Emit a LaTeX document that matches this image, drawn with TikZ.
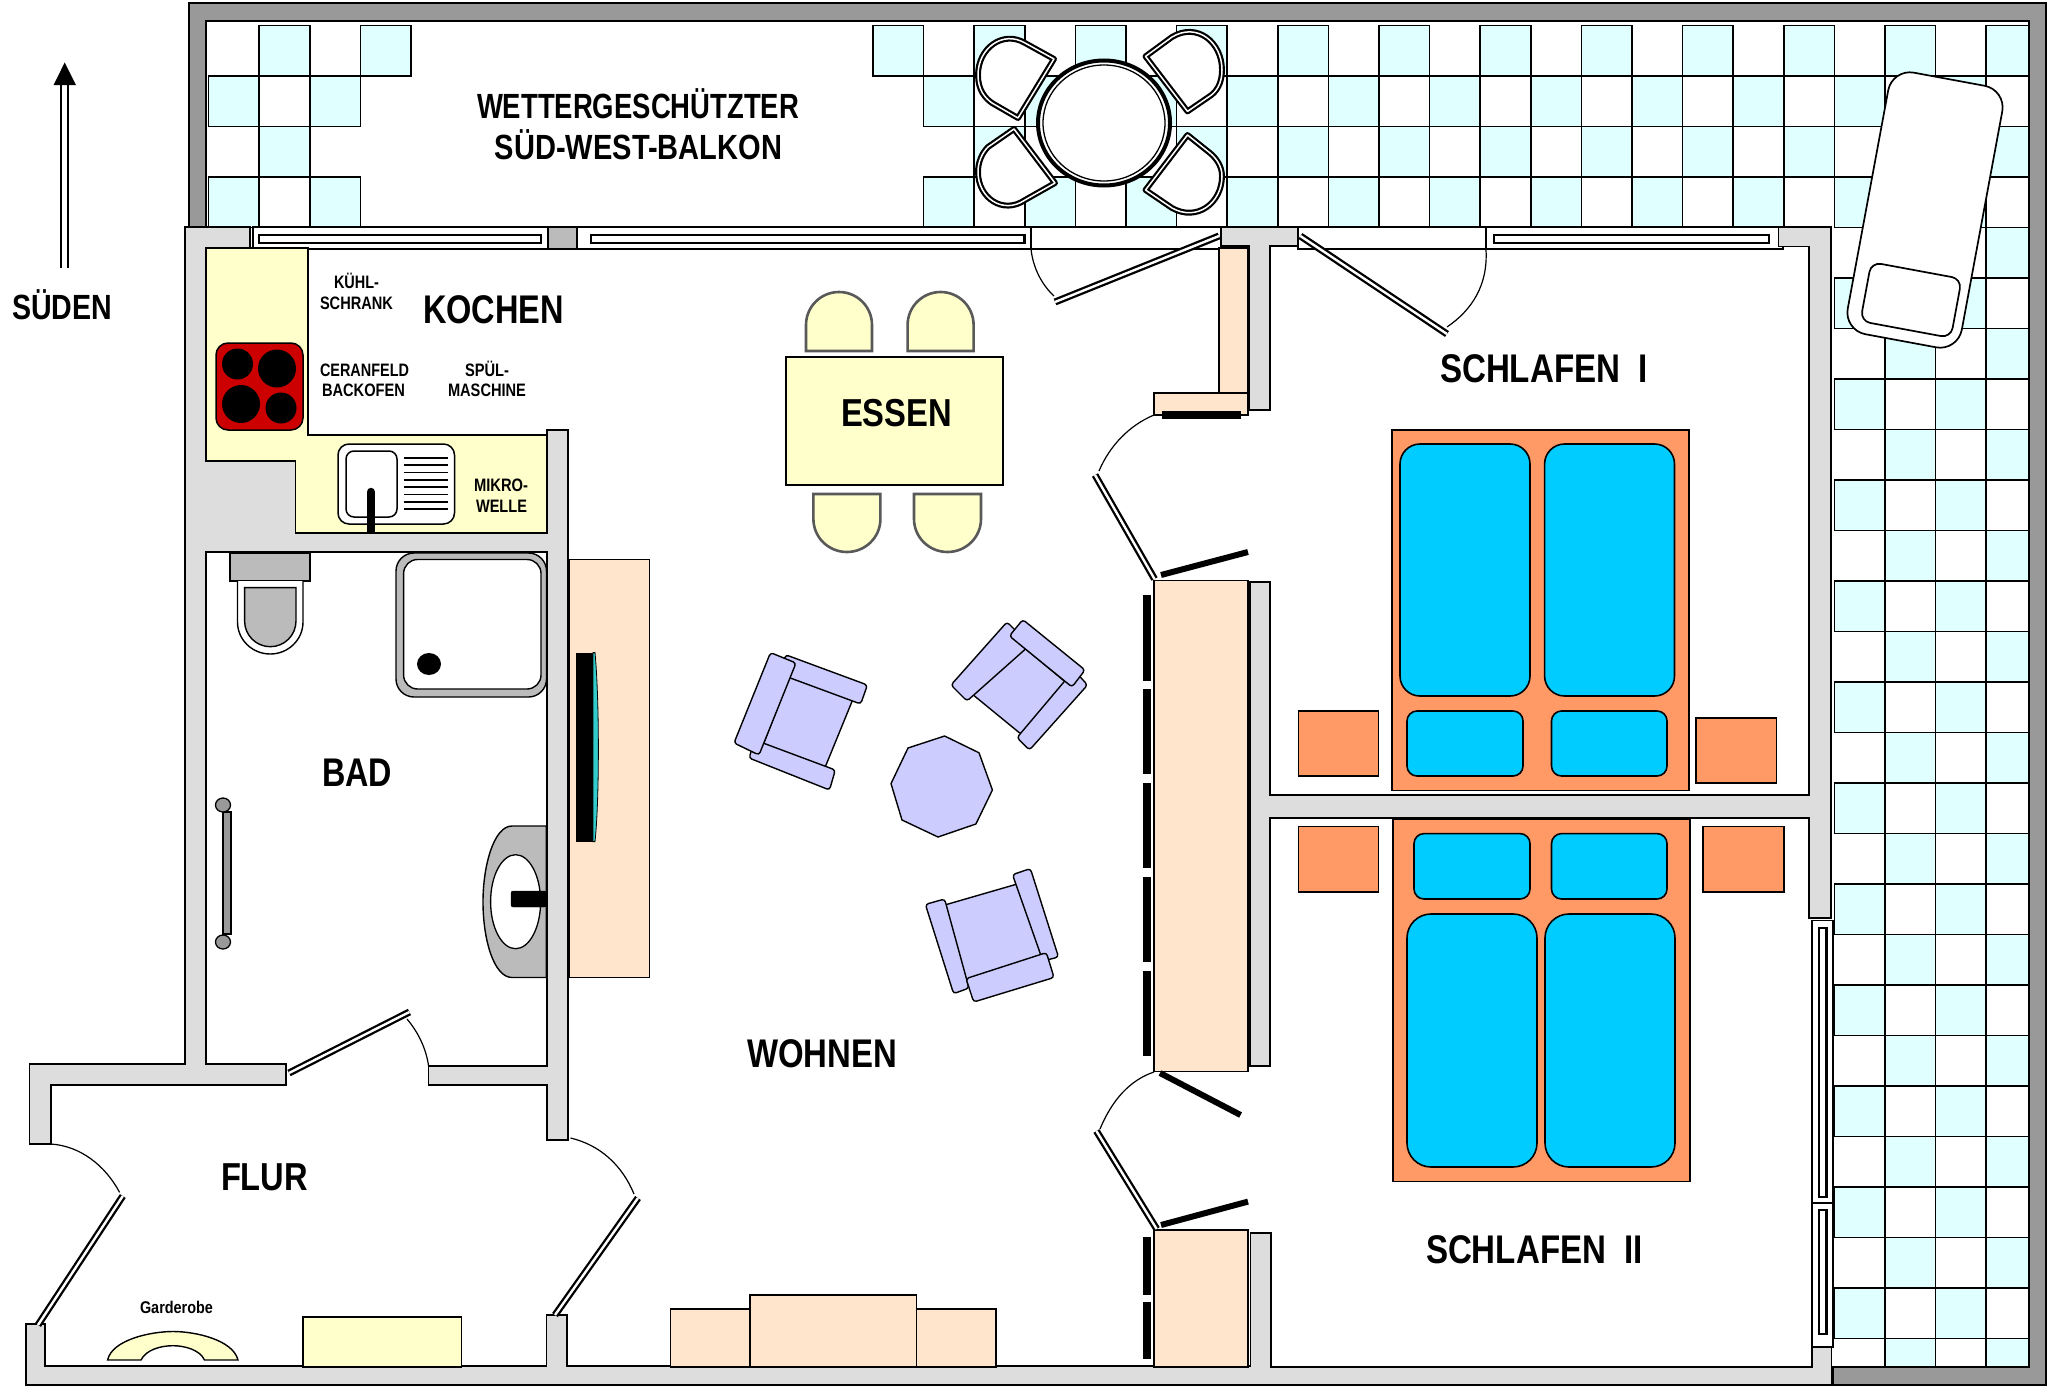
\documentclass[tikz,border=0pt]{standalone}
\usepackage{fontspec}
\usepackage{graphicx}
\setmainfont{Liberation Sans}
\definecolor{tilec}{HTML}{E0FFFF}
\definecolor{wallc}{HTML}{DDDDDD}
\definecolor{balc}{HTML}{999999}
\definecolor{kitc}{HTML}{FFFFCC}
\definecolor{woodc}{HTML}{FFE5CC}
\definecolor{bedc}{HTML}{FF9966}
\definecolor{matc}{HTML}{00CCFF}
\definecolor{lilac}{HTML}{CCCCFF}
\definecolor{sanc}{HTML}{BBBBBB}
\definecolor{tvc}{HTML}{33CCCC}
\tikzset{
  tile/.style={fill=tilec,draw=black,line width=1.5pt},
  wallp/.style={fill=wallc,draw=black,line width=1.5pt,line join=miter},
  balw/.style={fill=balc,draw=black,line width=1.8pt},
  framep/.style={fill=white,draw=black,line width=1.5pt},
  glass/.style={fill=white,draw=black,line width=2.2pt},
  kit/.style={fill=kitc,draw=black,line width=1.6pt},
  wood/.style={fill=woodc,draw=black,line width=1.5pt},
  bedf/.style={fill=bedc,draw=black,line width=1.8pt},
  mat/.style={fill=matc,draw=black,line width=1.6pt},
  seatc/.style={fill=kitc,draw=black!65,line width=2.6pt},
  lil/.style={fill=lilac,draw=black,line width=1.4pt,rounded corners=3pt},
  san/.style={fill=sanc,draw=black,line width=1.4pt},
  leaf/.style={draw=black,line width=2.3pt,double=white,double distance=2.4pt},
  swing/.style={draw=black,line width=1.2pt},
  bar/.style={draw=black,line width=6pt},
  balseat/.style={fill=white,draw=black,line width=2.2pt,double=white,double distance=1.5pt,line join=round},
  lab/.style={anchor=base,inner sep=0pt,outer sep=0pt}
}
\newcommand\lab[6]{\node[lab] (#1) at ({(#2+#3)/2},#4) {\resizebox{\dimexpr #3pt-#2pt\relax}{\height}{\fontsize{#5pt}{#5pt}\bfseries\selectfont #6}};}
\newcommand\ttile[2]{%
  \pgfmathsetmacro\tx{#1<10 ? 208.5+50.7*#1 : 873+50.6*(#1-13)}\pgfmathsetmacro\ty{25.4+50.5*#2}%
  \pgfmathsetmacro\tu{\tx+50.6}\pgfmathsetmacro\tv{\ty+50.5}%
  \draw[tile] (\tx,\ty) rectangle (\tu,\tv);}
\begin{document}
\begin{tikzpicture}[x=1pt,y=-1pt]
\useasboundingbox (0,0) rectangle (2048,1389);
\fill[white] (0,0) rectangle (2048,1389);
% tiles
\begin{scope}
\clip (206,20) rectangle (2029,1367);
\foreach \i/\r in {1/0,3/0,0/1,2/1,1/2,0/3,2/3,13/0}{\ttile{\i}{\r}}
\foreach \i in {14,...,35}{\foreach \r in {0,...,3}{%
  \pgfmathtruncatemacro\pp{mod(\i+\r,2)}\ifnum\pp=1 \ttile{\i}{\r}\fi}}
\foreach \i in {32,...,35}{\foreach \r in {4,...,26}{%
  \pgfmathtruncatemacro\pp{mod(\i+\r,2)}\ifnum\pp=1 \ttile{\i}{\r}\fi}}
\end{scope}
% balcony wall
\draw[balw] (189,227)--(189,3)--(2046,3)--(2046,1385)--(1833,1385)--(1833,1367)--(2029,1367)--(2029,21)--(206,21)--(206,227)--cycle;
% lounger
\begin{scope}[shift={(1925,210)},rotate=-10.5]
\draw[fill=white,draw=black,line width=1.7pt,rounded corners=22pt] (-58,-133) rectangle (58,133);
\end{scope}
\begin{scope}[shift={(1911,300)},rotate=-10.5]
\draw[fill=white,draw=black,line width=1.7pt,rounded corners=10pt] (-46,-30) rectangle (46,30);
\end{scope}
% balcony table
\draw[fill=white,draw=black,line width=4pt] (1104,123) ellipse [x radius=66pt,y radius=62.5pt];
\draw[draw=black,line width=1.3pt] (1104,123) ellipse [x radius=61pt,y radius=58pt];
\draw[balseat] (1054,59)--(1025,43) .. controls (1003,30) and (978,48) .. (978,75) .. controls (978,90) and (985,98) .. (992,103)--(1018,118)--cycle;
\draw[balseat] (1145.5,56.4)--(1172,37) .. controls (1197,22) and (1222,42) .. (1222,70) .. controls (1222,84) and (1216,92) .. (1210,96)--(1187.5,111.4)--cycle;
\draw[balseat] (1014,129)--(988,147) .. controls (982,153) and (978,162) .. (978,172) .. controls (978,198) and (1003,215) .. (1025,200)--(1055,183)--cycle;
\draw[balseat] (1187.5,135)--(1210,153) .. controls (1216,158) and (1222,166) .. (1222,176) .. controls (1222,203) and (1197,222) .. (1172,208)--(1145.5,190)--cycle;
% top window frames
\draw[framep] (253,227) rectangle (548,249);
\draw[fill=sanc,draw=black,line width=1.5pt] (548,227) rectangle (577,249);
\draw[framep] (577,227) rectangle (1031,249);
\draw[framep] (1031,227) rectangle (1221,249);
\draw[framep] (1298,227) rectangle (1486,249);
\draw[framep] (1486,227) rectangle (1783,249);
\draw[glass] (259,234.6) rectangle (541,243);
\draw[glass] (591,234.6) rectangle (1024.5,243);
\draw[glass] (1494,234.6) rectangle (1769,243);
% right window frames
\draw[framep] (1812,920.5) rectangle (1833,1203);
\draw[framep] (1812,1203) rectangle (1833,1347);
\draw[glass] (1819,928) rectangle (1826.5,1197);
\draw[glass] (1819,1210) rectangle (1826.5,1334);
% kitchen counter
\draw[kit] (206,248)--(308,248)--(308,435)--(547,435)--(547,533)--(295.5,533)--(295.5,461)--(206,461)--cycle;
% walls
\draw[wallp] (185,227)--(250,227)--(250,248)--(206,248)--(206,461)--(295.5,461)--(295.5,533)--(547,533)--(547,430)--(568,430)--(568,1140)--(547,1140)--(547,1085)--(428.6,1085)--(428.6,1066)--(547,1066)--(547,552)--(206,552)--(206,1064)--(286,1064)--(286,1085)--(51,1085)--(51,1144)--(29.5,1144)--(29.5,1064)--(185,1064)--cycle;
\draw[wallp] (26,1324)--(45,1324)--(45,1366)--(546.4,1366)--(546.4,1315)--(567,1315)--(567,1366)--(1250.5,1366)--(1250.5,1233)--(1271,1233)--(1271,1367)--(1812,1367)--(1812,1347)--(1831.6,1347)--(1831.6,1385)--(26,1385)--cycle;
\draw[wallp] (1221,227)--(1298,227)--(1298,246)--(1270,246)--(1270,410)--(1249,410)--(1249,246)--(1221,246)--cycle;
\draw[wallp] (1250,582)--(1270,582)--(1270,795)--(1809,795)--(1809,246.5)--(1778.6,246.5)--(1778.6,227)--(1831,227)--(1831,918)--(1809,918)--(1809,818)--(1270,818)--(1270,1066)--(1250,1066)--cycle;
% stove
\draw[fill=red!80!black,draw=black,line width=1.5pt,rounded corners=12pt] (216,343) rectangle (303,430);
\fill[black] (237.5,364) ellipse [x radius=15.5pt,y radius=15.5pt];
\fill[black] (277,368.5) ellipse [x radius=19pt,y radius=19pt];
\fill[black] (241,404) ellipse [x radius=19pt,y radius=19pt];
\fill[black] (281,408) ellipse [x radius=15.5pt,y radius=15.5pt];
% kitchen sink
\draw[fill=white,draw=black,line width=1.5pt,rounded corners=11pt] (338,444) rectangle (454.5,524);
\draw[fill=white,draw=black,line width=1.5pt,rounded corners=8pt] (346,451) rectangle (397,517);
\foreach \yy in {458,465,472.5,480,487,494.6,502,509}{\draw[black,line width=1.4pt] (403.6,\yy)--(448,\yy);}
\draw[black,line width=8.5pt,line cap=round] (371,492)--(371,525);
\draw[black,line width=8.5pt] (371,510)--(371,532);
% WC
\draw[san] (230,553) rectangle (310,581);
\draw[fill=white,draw=black,line width=1.4pt] (237.5,581)--(237.5,622) arc[start angle=180,end angle=360,x radius=32.75pt,y radius=32pt]--(303,581);
\draw[san] (244.6,587.6)--(296,587.6)--(296,621) arc[start angle=0,end angle=-180,x radius=25.7pt,y radius=25.7pt]--cycle;
% shower
\draw[fill=sanc,draw=black,line width=1.4pt,rounded corners=18pt] (396,553) rectangle (546.5,697);
\draw[fill=white,draw=black,line width=1.4pt,rounded corners=14pt] (403.6,559.5) rectangle (541,689);
\fill[black] (429,664) ellipse [x radius=12pt,y radius=11pt];
% towel bar
\draw[fill=balc,draw=black,line width=1.3pt] (223,812) rectangle (231,934);
\draw[fill=balc,draw=black,line width=1.3pt] (223,805) ellipse [x radius=7.5pt,y radius=7pt];
\draw[fill=balc,draw=black,line width=1.3pt] (223,942) ellipse [x radius=7.5pt,y radius=7pt];
% basin
\draw[san] (546.4,826)--(512,826) .. controls (494,826) and (483,865) .. (483,902) .. controls (483,940) and (494,977.5) .. (512,977.5)--(546.4,977.5)--cycle;
\draw[fill=white,draw=black,line width=1.3pt] (515.6,901.7) ellipse [x radius=25pt,y radius=47pt];
\draw[fill=black,rounded corners=2pt] (511,891) rectangle (546.4,907);
% TV cabinet
\draw[wood] (569.6,559.5) rectangle (649.5,977.5);
\draw[fill=tvc,draw=black,line width=.8pt] (593,652.6)--(595,652.6) .. controls (599.5,700) and (599.5,800) .. (595,841.6)--(593,841.6)--cycle;
\fill[black] (576,652.6) rectangle (593,841.6);
% armchairs: seat, arms, back
\draw[lil] (790,676)--(853,699)--(824.4,769)--(763,745)--cycle;
\draw[lil] (785.7,654.8)--(867.4,685)--(860.7,704)--(779.5,674)--cycle;
\draw[lil] (755,740)--(835.3,770)--(829.5,790)--(749,758)--cycle;
\draw[lil] (770.5,652.6)--(796,663)--(759,755)--(734,743)--cycle;
\draw[lil] (1015,640)--(1068,684)--(1021.5,734.5)--(969,691.5)--cycle;
\draw[lil] (1007,622)--(1030,645)--(967,701)--(951,685)--cycle;
\draw[lil] (1087.5,685)--(1029.5,750)--(1017,737.6)--(1074,670)--cycle;
\draw[lil] (1022.8,619.6)--(1085,670)--(1072,687)--(1009.4,636)--cycle;
\draw[lil] (943,905.5)--(1019,883.5)--(1042,958)--(966,982)--cycle;
\draw[lil] (925.4,904.4)--(944.6,899)--(969,988)--(953.6,993.7)--cycle;
\draw[lil] (1012.5,874.6)--(1030.4,868.6)--(1058.5,957)--(1042.9,961)--cycle;
\draw[lil] (966,978.6)--(1046.4,952.6)--(1054,977.5)--(973.7,1002)--cycle;
\draw[fill=lilac,draw=black,line width=1.4pt] (944.6,736)--(979,752.8)--(992.4,790)--(975.9,824)--(938,837)--(902,820)--(891,783.6)--(908,748)--cycle;
% dining
\draw[kit] (785.7,357) rectangle (1003,485);
\foreach \xa in {806,907.6}{
  \draw[seatc] (\xa,351)--(\xa,325) arc[start angle=180,end angle=0,x radius=33pt,y radius=33pt]--(\xa+66,351)--cycle;}
\foreach \xa in {813.4,914}{
  \draw[seatc] (\xa,494)--(\xa,519) arc[start angle=180,end angle=360,x radius=33.5pt,y radius=33pt]--(\xa+67,494)--cycle;}
% closets
\draw[wood] (1219,248) rectangle (1248,393);
\draw[wood] (1154,393) rectangle (1248,415);
\draw[wood] (1154,580.6) rectangle (1248,1071.7);
\draw[wood] (1154,1230) rectangle (1248,1367);
\fill[black] (1161.6,411.4) rectangle (1241,418.6);
\foreach \ya/\yb in {595/681,689.4/774.4,783/868,877/962,971/1056,1237/1295,1302/1358.6}{\fill[black] (1143,\ya) rectangle (1151,\yb);}
\draw[bar] (1161,575)--(1248,552);
\draw[bar] (1160,1073)--(1240.6,1115);
\draw[bar] (1161,1225)--(1248,1201.6);
% sideboard
\draw[wood] (670.5,1309) rectangle (750,1367);
\draw[wood] (916.5,1309) rectangle (996,1367);
\draw[wood] (750,1295) rectangle (916.5,1367);
% flur furniture
\draw[kit] (302.7,1317) rectangle (461.6,1367);
\draw[fill=kitc,draw=black,line width=1.4pt] (107.6,1360) .. controls (112,1340) and (150,1331.5) .. (173,1331.5) .. controls (196,1331.5) and (233,1340) .. (238,1360)--(204.5,1360) .. controls (200,1350) and (185,1345.7) .. (173,1345.7) .. controls (160,1345.7) and (146,1350) .. (141,1360)--cycle;
% beds
\draw[bedf] (1392,430) rectangle (1689,790.4);
\draw[bedf] (1393,819) rectangle (1690,1181.5);
\draw[mat,rounded corners=20pt] (1400,444) rectangle (1530,696);
\draw[mat,rounded corners=20pt] (1544.6,444) rectangle (1674.5,696);
\draw[mat,rounded corners=10pt] (1407,711) rectangle (1523,776);
\draw[mat,rounded corners=10pt] (1551.5,711) rectangle (1667,776);
\draw[mat,rounded corners=10pt] (1414,833.6) rectangle (1530,899);
\draw[mat,rounded corners=10pt] (1551.5,833.6) rectangle (1667,899);
\draw[mat,rounded corners=24pt] (1407,914) rectangle (1537,1167);
\draw[mat,rounded corners=24pt] (1545,914) rectangle (1675,1167);
\draw[bedf,line width=1.5pt] (1298.5,711) rectangle (1378.6,776);
\draw[bedf,line width=1.5pt] (1696,718) rectangle (1776.5,783);
\draw[bedf,line width=1.5pt] (1298.5,826.5) rectangle (1378.6,892);
\draw[bedf,line width=1.5pt] (1703,826.5) rectangle (1784,892);
% doors
\draw[leaf] (1219,236)--(1055,302);
\draw[swing] (1031,249) .. controls (1033,268) and (1042,285) .. (1054,296);
\draw[leaf] (1300.4,236)--(1447,334);
\draw[swing] (1486,250) .. controls (1488,285) and (1472,310) .. (1447,327);
\draw[leaf] (1095,475)--(1154.5,579);
\draw[swing] (1154,415) .. controls (1130,425) and (1110,445) .. (1099,471);
\draw[leaf] (1096.4,1131)--(1156.7,1229);
\draw[swing] (1154,1072) .. controls (1130,1080) and (1112,1100) .. (1100,1129);
\draw[leaf] (289,1073)--(409.4,1012);
\draw[swing] (428.6,1066) .. controls (426,1048) and (418,1032) .. (407,1019);
\draw[leaf] (122.8,1196)--(38,1325);
\draw[swing] (51,1144) .. controls (80,1146) and (105,1165) .. (119.6,1192.4);
\draw[leaf] (638,1198)--(555,1315);
\draw[swing] (570.5,1138) .. controls (600,1145) and (622,1165) .. (634,1194);
% north arrow
\draw[fill=white,draw=black,line width=1.8pt] (61,268)--(61,84)--(68.3,84)--(68.3,268);
\fill[black] (64.7,62.5)--(76,85)--(53.6,85)--cycle;
% labels
\lab{sueden}{12}{112}{319.5}{35}{SÜDEN}
\lab{wetter}{477}{799}{118}{35}{WETTERGESCHÜTZTER}
\lab{balkon}{495}{782}{159}{35}{SÜD-WEST-BALKON}
\lab{kochen}{423}{564}{323.5}{40}{KOCHEN}
\lab{kuehl}{334}{379}{288.6}{18}{KÜHL-}
\lab{schrank}{320}{393}{309}{18}{SCHRANK}
\lab{ceran}{320}{409}{376}{18}{CERANFELD}
\lab{backofen}{322}{405}{396}{18}{BACKOFEN}
\lab{spuel}{465}{509}{376}{18}{SPÜL-}
\lab{maschine}{448}{526}{396}{18}{MASCHINE}
\lab{mikro}{474}{528}{491}{18}{MIKRO-}
\lab{welle}{476}{527}{512}{18}{WELLE}
\lab{essen}{841}{952}{426}{39}{ESSEN}
\lab{schlafa}{1440}{1648}{382}{40}{SCHLAFEN\ \ I}
\lab{bad}{322}{392}{786.5}{40}{BAD}
\lab{flur}{221}{308}{1190}{39}{FLUR}
\lab{garderobe}{140}{213}{1313}{17}{Garderobe}
\lab{wohnen}{747}{897}{1067}{40}{WOHNEN}
\lab{schlafb}{1426}{1643}{1263}{40}{SCHLAFEN\ \ II}
\end{tikzpicture}
\end{document}
